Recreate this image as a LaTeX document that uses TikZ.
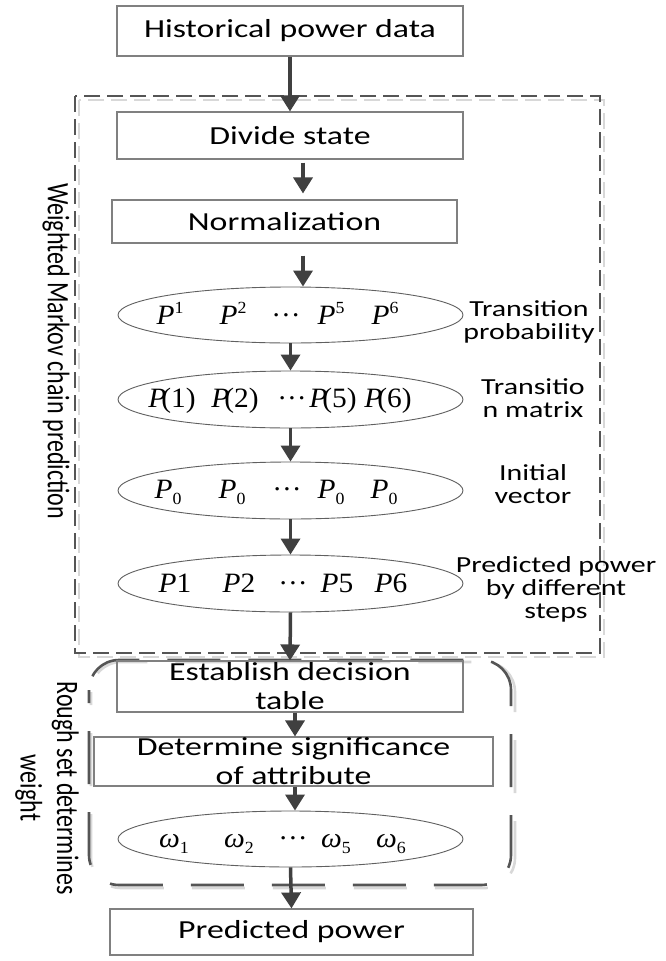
\documentclass[tikz,border=0pt]{standalone}
\usepackage{fontspec}
\setmainfont{Carlito}[FakeStretch=1.3]
\newfontfamily\plainfont{Carlito}
\newfontfamily\serif{Liberation Serif}[FakeStretch=1.05]
\usetikzlibrary{arrows.meta,shapes.geometric}
\definecolor{boxgray}{HTML}{808080}
\definecolor{ellgray}{HTML}{606060}
\definecolor{arrgray}{HTML}{404040}
\definecolor{dashgray}{HTML}{555555}
\definecolor{shadowgray}{HTML}{D8D8D8}
\newcommand\mainsz{\fontsize{26}{29}\selectfont}
\newcommand\labsz{\fontsize{23}{23}\selectfont}
\newcommand\mathsz{\serif\fontsize{28}{30}\selectfont}
\newcommand\Pit{{\itshape P}}
\newcommand\Om{{\itshape ω}}
\newcommand\dts{···}
\newcommand\sups[1]{\raisebox{0.36em}{\fontsize{17}{18}\selectfont #1}}
\newcommand\subs[1]{\raisebox{-0.24em}{\fontsize{17}{18}\selectfont #1}}
\newcommand\Pp[1]{\Pit\kern-5pt(#1)}
\begin{document}
\begin{tikzpicture}[x=1pt,y=-1pt,
  box/.style={draw=boxgray, line width=1.1pt, inner sep=0pt, font=\mainsz, align=center},
  ell/.style={ellipse, draw=ellgray, line width=0.9pt, inner sep=0pt},
  mt/.style={inner sep=0pt, font=\mathsz, anchor=base},
  lab/.style={inner sep=0pt, font=\labsz, align=center},
  arr/.style={draw=arrgray, line width=3.5pt, -{Triangle[width=19pt,length=16pt]}},
  dashbox/.style={draw=dashgray, line width=1.8pt, dash pattern=on 16pt off 7pt},
  dashround/.style={draw=dashgray, line width=2.6pt, dash pattern=on 53pt off 28pt, rounded corners=30pt},
  side/.style={inner sep=0pt, font=\plainfont\fontsize{24}{28}\selectfont, align=center}
]
\useasboundingbox (0,0) rectangle (666,961);
\fill[white] (0,0) rectangle (666,961);

% group frames (with light shadows)
\draw[dashbox, draw=shadowgray] (79,100) rectangle (604,657);
\draw[dashbox] (75,96) rectangle (600,653);
\draw[dashround, draw=shadowgray, dash phase=40pt] (91,662) rectangle (515,888);
\draw[dashround, dash phase=40pt] (89,660) rectangle (511,885);

% boxes
\node[box, minimum width=346pt, minimum height=50pt] (hist) at (290,31) {Historical power data};
\node[box, minimum width=346pt, minimum height=47pt] (divide) at (290,135.5) {Divide state};
\node[box, minimum width=345pt, minimum height=43pt] (norm) at (284.5,221.5) {Normalization};

% ellipses
\node[ell, minimum width=345pt, minimum height=56pt] (e1) at (290.5,315) {};
\node[ell, minimum width=345pt, minimum height=57pt] (e2) at (290.5,399.5) {};
\node[ell, minimum width=345pt, minimum height=57pt] (e3) at (290.5,490.5) {};
\node[ell, minimum width=345pt, minimum height=57pt] (e4) at (290.5,583.5) {};

\node[mt] (e1a) at (170,324) {\Pit\sups{1}};
\node[mt] (e1b) at (233,324) {\Pit\sups{2}};
\node[mt] (e1c) at (286,324) {\dts};
\node[mt] (e1d) at (331,324) {\Pit\sups{5}};
\node[mt] (e1e) at (385,324) {\Pit\sups{6}};

\node[mt] (e2a) at (172,407) {\Pp{1}};
\node[mt] (e2b) at (235,407) {\Pp{2}};
\node[mt] (e2c) at (292,407) {\dts};
\node[mt] (e2d) at (333,407) {\Pp{5}};
\node[mt] (e2e) at (388,407) {\Pp{6}};

\node[mt] (e3a) at (168,498) {\Pit\subs{0}};
\node[mt] (e3b) at (232,498) {\Pit\subs{0}};
\node[mt] (e3c) at (287,498) {\dts};
\node[mt] (e3d) at (331,498) {\Pit\subs{0}};
\node[mt] (e3e) at (384,498) {\Pit\subs{0}};

\node[mt] (e4a) at (175,592) {\Pit1};
\node[mt] (e4b) at (239,592) {\Pit2};
\node[mt] (e4c) at (293,592) {\dts};
\node[mt] (e4d) at (337,592) {\Pit5};
\node[mt] (e4e) at (391,592) {\Pit6};

% right labels
\node[lab] (l1) at (529,321.5) {Transition\\probability};
\node[lab] (l2) at (533,398.5) {Transitio\\n matrix};
\node[lab] (l3) at (533,484.5) {Initial\\vector};
\node[lab] (l4) at (556,589) {Predicted power\\by different\\steps};

% lower boxes
\node[box, minimum width=346pt, minimum height=51pt] (est) at (290,686.5) {Establish decision\\table};
\node[box, minimum width=399pt, minimum height=49pt] (det) at (293.5,761.5) {Determine significance\\of attribute};
\node[ell, minimum width=345pt, minimum height=56pt] (ew) at (290.5,839) {};
\node[mt] (ewa) at (174,847) {\Om\subs{1}};
\node[mt] (ewb) at (239,847) {\Om\subs{2}};
\node[mt] (ewc) at (293,847) {\dts};
\node[mt] (ewd) at (336,847) {\Om\subs{5}};
\node[mt] (ewe) at (391,847) {\Om\subs{6}};
\node[box, minimum width=363pt, minimum height=46pt] (pred) at (291.5,932) {Predicted power};

% side labels
\node[side, xscale=1.3, rotate=-90] (s1) at (56,351) {Weighted Markov chain prediction};
\node[side, xscale=1.3, rotate=-90] (s2) at (47,788) {Rough set determines\\weight};

% arrows
\coordinate (cA) at (303,0);
\coordinate (cB) at (295,0);
\draw[arr] (hist.south) -- (divide.north);
\draw[arr, shorten <=3pt, shorten >=6pt] (divide.south -| cA) -- (norm.north -| cA);
\draw[arr, shorten <=12pt] (norm.south -| cA) -- (e1.north -| cA);
\draw[arr] (e1.south) -- (e2.north);
\draw[arr] (e2.south) -- (e3.north);
\draw[arr] (e3.south) -- (e4.north);
\draw[arr] (e4.south) -- (est.north);
\draw[arr] (est.south -| cB) -- (det.north -| cB);
\draw[arr] (det.south -| cB) -- (ew.north -| cB);
\draw[arr] (ew.south) -- (pred.north);
\end{tikzpicture}
\end{document}
